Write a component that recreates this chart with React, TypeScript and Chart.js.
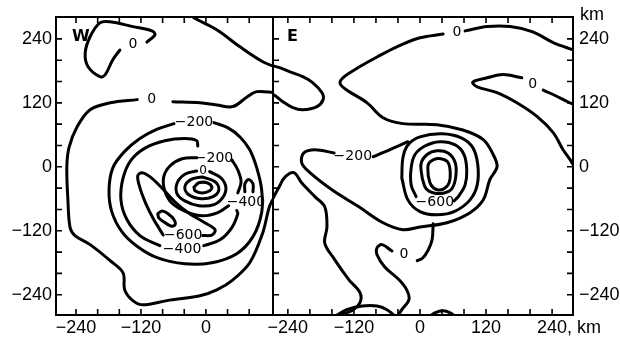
import React, { useEffect, useRef } from 'react';
import { Chart, registerables } from 'chart.js';

Chart.register(...registerables);

type P = [number, number];

// ---------- axes ----------
const minorTicks = [-240, -200, -160, -120, -80, -40, 0, 40, 80, 120, 160, 200, 240];
const yTickLabels = [-240, -120, 0, 120, 240];
const wXTickLabels = [-240, -120, 0];
const eXTickLabels = [-240, -120, 0, 120, 240];
const wXRange: P = [-277, 124];
const eXRange: P = [-267, 278];
const yRange: P = [-278, 281];

// ---------- W panel contours (km) ----------
const wContourA: P[] = [[-109, 234], [-94, 248], [-100, 255], [-135, 263], [-177, 272], [-196, 270], [-214, 244], [-223, 214], [-218, 188], [-196, 169], [-186, 173], [-172, 201], [-159, 219]];
const wContourB: P[] = [[-30, 291], [-24, 281], [20, 257], [63, 225], [105, 197], [127, 188]];
const wContourCTop: P[] = [[127, 139], [94, 141], [76, 131], [50, 113], [20, 116], [-11, 120], [-61, 122]];
const wContourC: P[] = [[-127, 126], [-177, 120], [-214, 107], [-238, 75], [-253, 36], [-257, 0], [-255, -62], [-251, -114], [-242, -129], [-214, -146], [-177, -176], [-153, -199], [-150, -231], [-135, -251], [-116, -259], [-72, -251], [-11, -242], [20, -231], [50, -212], [81, -180], [105, -124], [118, -73], [131, -49]];
const wRingD: P[] = [[15, 83], [41, 73], [63, 56], [81, 32], [94, -2], [103, -43], [103, -86], [87, -131], [57, -163], [11, -180], [-39, -182], [-89, -171], [-126, -150], [-155, -122], [-174, -84], [-179, -43], [-172, -2], [-151, 28], [-122, 53], [-89, 71], [-59, 81]];
const wRingF1: P[] = [[-15, 39], [-17, 49], [-39, 53], [-76, 49], [-111, 36], [-138, 13], [-153, -21], [-157, -62], [-146, -99], [-122, -129], [-85, -148]];
const wRingF2: P[] = [[-4, -148], [26, -137], [48, -114], [59, -88], [57, -82]];
const wBanana: P[] = [[-6, -129], [11, -128], [17, -118], [-2, -105], [-30, -88], [-57, -66], [-83, -38], [-103, -19], [-118, -11], [-126, -17], [-122, -39], [-111, -69], [-98, -96], [-85, -118], [-79, -128]];
const wOval: P[] = [[-89, -88], [-81, -83], [-70, -88], [-59, -99], [-57, -109], [-65, -111], [-78, -103], [-87, -96], [-89, -88]];
const wRingI1: P[] = [[-17, 17], [-44, 15], [-66, 2], [-78, -19], [-76, -45], [-63, -68], [-37, -84], [-6, -92], [22, -86], [42, -73]];
const wRingI2: P[] = [[48, 13], [59, -6], [65, -28], [59, -49]];
const wRingJ: P[] = [[-17, -8], [-37, -13], [-52, -28], [-54, -49], [-39, -64], [-13, -73], [15, -71], [31, -58], [37, -39], [28, -21], [7, -9]];
const wRingK: P[] = [[-7, -19], [-28, -24], [-39, -38], [-31, -53], [-9, -60], [13, -56], [24, -43], [17, -28], [-7, -19]];
const wCore: P[] = [[-22, -38], [-13, -30], [2, -30], [11, -38], [7, -45], [-7, -49], [-20, -45], [-22, -38]];
const wSmallN: P[] = [[72, -47], [72, -32], [79, -24], [87, -32], [87, -47]];

const wLabelText = ['0', '0', '\u2212200', '\u2212200', '0', '\u2212400', '\u2212600', '\u2212400'];
const wLabelPos: P[] = [[-135, 229], [-100, 126], [-22, 84], [15, 15], [-5, -8], [74, -66], [-42, -129], [-44, -154]];
const wLabelSize = [14, 14, 14, 14, 12, 14, 14, 14];

// ---------- E panel contours (km) ----------
const eContourB: P[] = [[-273, 191], [-255, 186], [-236, 178], [-213, 169], [-195, 158], [-178, 139], [-176, 126], [-187, 113], [-213, 107], [-231, 111], [-249, 122], [-260, 131], [-273, 139]];
const eContourC: P[] = [[-273, -71], [-256, -38], [-245, -19], [-229, -11], [-215, -30], [-191, -56], [-173, -75], [-169, -113], [-173, -143], [-155, -174], [-129, -212], [-109, -236], [-109, -255], [-124, -270], [-145, -278], [-160, -287]];
const eHump1: P[] = [[-158, -283], [-133, -268], [-105, -261], [-78, -261], [-60, -268], [-42, -283]];
const eHump2: P[] = [[15, -283], [27, -274], [42, -270], [55, -274], [67, -283]];
const eTopRight: P[] = [[82, 255], [122, 263], [164, 263], [205, 253], [242, 233], [282, 218]];
const eOuter: P[] = [[42, 249], [0, 242], [-42, 225], [-78, 206], [-109, 188], [-140, 167], [-145, 156], [-133, 144], [-96, 120], [-67, 92], [-31, 81], [31, 79], [78, 69], [115, 51], [133, 23], [140, 0], [127, -24], [115, -62], [91, -86], [49, -105], [0, -113], [-31, -118], [-67, -105], [-111, -75], [-160, -43], [-202, -9], [-215, 8], [-211, 26], [-191, 32], [-156, 26]];
const eM200Right: P[] = [[-85, 19], [-64, 28], [-40, 39], [-22, 47]];
const eR1: P[] = [[-33, -21], [-31, 17], [-22, 41], [0, 56], [40, 62], [76, 54], [96, 36], [105, 4], [104, -34], [91, -62], [64, -83], [31, -90], [0, -84], [-22, -62], [-33, -21]];
const eR2: P[] = [[-7, -56], [-16, -34], [-16, -2], [-9, 23], [9, 39], [36, 47], [64, 41], [80, 23], [85, -6], [82, -34], [71, -54], [62, -64]];
const eR3: P[] = [[4, -21], [2, 6], [13, 23], [31, 30], [51, 26], [64, 8], [65, -19], [58, -41], [44, -49], [25, -49], [11, -41], [4, -21]];
const eR4: P[] = [[15, -17], [15, 4], [24, 13], [38, 15], [51, 8], [55, -11], [53, -30], [44, -41], [31, -43], [20, -34], [15, -17]];
const eZeroBranch: P[] = [[24, -107], [22, -137], [15, -156], [5, -171], [-5, -176]];
const eZeroLower: P[] = [[-51, -158], [-69, -146], [-78, -152], [-78, -165], [-64, -188], [-38, -212], [-24, -231], [-20, -249], [-33, -268], [-42, -283]];
const eTongue: P[] = [[185, 167], [151, 173], [122, 167], [96, 159], [104, 150], [140, 139], [176, 120], [213, 94], [242, 64], [260, 32], [273, 13], [284, -6]];
const eTongueRight: P[] = [[224, 144], [255, 129], [284, 114]];

const eLabelText = ['0', '0', '\u2212200', '\u2212600', '0'];
const eLabelPos: P[] = [[67, 253], [205, 154], [-122, 19], [27, -66], [-29, -165]];
const eLabelSize = [14, 14, 14, 14, 14];

const wLines = [wContourA, wContourB, wContourCTop, wContourC, wRingD, wRingF1, wRingF2, wBanana, wOval, wRingI1, wRingI2, wRingJ, wRingK, wCore, wSmallN];
const eLines = [eContourB, eContourC, eHump1, eHump2, eTopRight, eOuter, eM200Right, eR1, eR2, eR3, eR4, eZeroBranch, eZeroLower, eTongue, eTongueRight];

const FONT = "'DejaVu Sans', 'Liberation Sans', Arial, sans-serif";
const TICK_FONT = "'Liberation Sans', Arial, Helvetica, sans-serif";
const TICK_SIZE = 18;
const X_PAD = 2;

function fmt(v: number): string {
  return v < 0 ? '\u2212' + Math.abs(v) : String(v);
}

interface PanelOpts {
  letter: string;
  lines: P[][];
  labels: string[];
  pos: P[];
  sizes: number[];
  xRange: P;
  xLabels: number[];
  yPos: 'left' | 'right';
  yWidth: number;
  padding: { left: number; right: number; top: number; bottom: number };
  leftTicks: boolean;
  rightTicks: boolean;
  km: boolean;
  letterDx: number;
}

function makePlugin(o: PanelOpts) {
  return {
    id: 'panel' + o.letter,
    afterDatasetsDraw(chart: any) {
      const ctx = chart.ctx as CanvasRenderingContext2D;
      const a = chart.chartArea;
      const xs = chart.scales.x;
      const ys = chart.scales.y;
      ctx.save();
      ctx.strokeStyle = '#000';
      ctx.fillStyle = '#000';
      ctx.lineWidth = 1.6;
      const L = 6;
      ctx.beginPath();
      for (const v of minorTicks) {
        const px = xs.getPixelForValue(v);
        if (px > a.left + 4 && px < a.right - 4) {
          ctx.moveTo(px, a.bottom);
          ctx.lineTo(px, a.bottom - L);
          ctx.moveTo(px, a.top);
          ctx.lineTo(px, a.top + L);
        }
        const py = ys.getPixelForValue(v);
        if (py > a.top + 4 && py < a.bottom - 4) {
          if (o.leftTicks) {
            ctx.moveTo(a.left, py);
            ctx.lineTo(a.left + L, py);
          }
          if (o.rightTicks) {
            ctx.moveTo(a.right, py);
            ctx.lineTo(a.right - L, py);
          }
        }
      }
      ctx.stroke();
      ctx.lineWidth = 2;
      ctx.strokeRect(a.left, a.top, a.right - a.left, a.bottom - a.top);

      ctx.textAlign = 'center';
      ctx.textBaseline = 'middle';
      o.labels.forEach((t, i) => {
        ctx.font = `${o.sizes[i]}px ${FONT}`;
        ctx.fillText(t, xs.getPixelForValue(o.pos[i][0]), ys.getPixelForValue(o.pos[i][1]));
      });

      ctx.font = `bold 16px ${FONT}`;
      ctx.textAlign = 'left';
      ctx.fillText(o.letter, a.left + o.letterDx, a.top + 20);

      if (o.km) {
        ctx.font = `${TICK_SIZE}px ${TICK_FONT}`;
        ctx.textAlign = 'left';
        ctx.fillText('km', a.right + 7, 15);
        const last = o.xLabels[o.xLabels.length - 1];
        const px = xs.getPixelForValue(last);
        const w = ctx.measureText(fmt(last)).width;
        ctx.fillText(', km', px + w / 2, a.bottom + X_PAD + (TICK_SIZE * 1.2) / 2);
      }
      ctx.restore();
    },
  };
}

function buildConfig(o: PanelOpts): any {
  return {
    type: 'scatter',
    data: {
      datasets: o.lines.map((pts) => ({
        data: pts.map(([x, y]) => ({ x, y })),
        showLine: true,
        borderColor: '#000',
        borderWidth: 3,
        pointRadius: 0,
        pointHoverRadius: 0,
        tension: 0.35,
        fill: false,
        clip: 0,
        borderCapStyle: 'round',
        borderJoinStyle: 'round',
      })),
    },
    options: {
      responsive: false,
      animation: false,
      devicePixelRatio: 1,
      events: [],
      layout: { padding: o.padding },
      plugins: { legend: { display: false }, tooltip: { enabled: false } },
      scales: {
        x: {
          type: 'linear',
          position: 'bottom',
          min: o.xRange[0],
          max: o.xRange[1],
          grid: { display: false, drawTicks: false, tickLength: 0 },
          border: { display: false },
          afterBuildTicks: (s: any) => {
            s.ticks = o.xLabels.map((v) => ({ value: v }));
          },
          afterFit: (s: any) => {
            s.height = 31;
          },
          ticks: {
            autoSkip: false,
            maxRotation: 0,
            padding: X_PAD,
            color: '#000',
            font: { family: TICK_FONT, size: TICK_SIZE },
            callback: (v: any) => fmt(Number(v)),
          },
        },
        y: {
          type: 'linear',
          position: o.yPos,
          min: yRange[0],
          max: yRange[1],
          grid: { display: false, drawTicks: false, tickLength: 0 },
          border: { display: false },
          afterBuildTicks: (s: any) => {
            s.ticks = yTickLabels.map((v) => ({ value: v }));
          },
          afterFit: (s: any) => {
            s.width = o.yWidth;
          },
          ticks: {
            autoSkip: false,
            padding: o.yPos === 'left' ? 4 : 6,
            color: '#000',
            font: { family: TICK_FONT, size: TICK_SIZE },
            callback: (v: any) => fmt(Number(v)),
          },
        },
      },
    },
    plugins: [makePlugin(o)],
  };
}

export default function App() {
  const wRef = useRef<HTMLCanvasElement>(null);
  const eRef = useRef<HTMLCanvasElement>(null);

  useEffect(() => {
    const w = new Chart(
      wRef.current as HTMLCanvasElement,
      buildConfig({
        letter: 'W',
        lines: wLines,
        labels: wLabelText,
        pos: wLabelPos,
        sizes: wLabelSize,
        xRange: wXRange,
        xLabels: wXTickLabels,
        yPos: 'left',
        yWidth: 56,
        padding: { left: 0, right: 11, top: 17, bottom: 0 },
        leftTicks: true,
        rightTicks: false,
        km: false,
        letterDx: 16,
      })
    );
    const e = new Chart(
      eRef.current as HTMLCanvasElement,
      buildConfig({
        letter: 'E',
        lines: eLines,
        labels: eLabelText,
        pos: eLabelPos,
        sizes: eLabelSize,
        xRange: eXRange,
        xLabels: eXTickLabels,
        yPos: 'right',
        yWidth: 47,
        padding: { left: 10, right: 0, top: 17, bottom: 0 },
        leftTicks: true,
        rightTicks: true,
        km: true,
        letterDx: 14,
      })
    );
    return () => {
      w.destroy();
      e.destroy();
    };
  }, []);

  return (
    <div style={{ position: 'absolute', left: 0, top: 0, width: 620, height: 346, background: '#fff', overflow: 'hidden' }}>
      <canvas ref={wRef} width={284} height={346} style={{ position: 'absolute', left: 0, top: 0 }} />
      <canvas ref={eRef} width={357} height={346} style={{ position: 'absolute', left: 263, top: 0 }} />
    </div>
  );
}
